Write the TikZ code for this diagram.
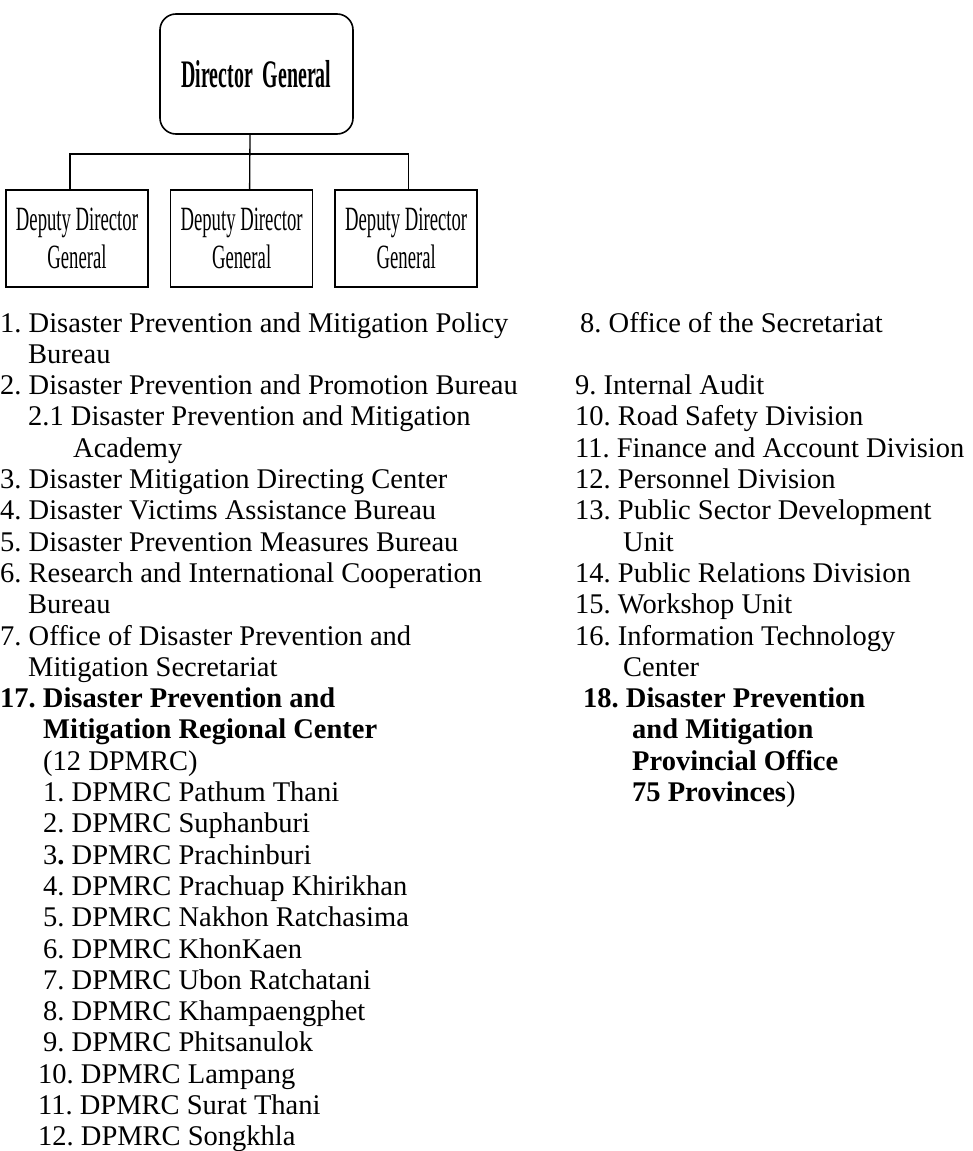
\documentclass[tikz,border=0pt]{standalone}
\usepackage{fontspec}
\setmainfont{Liberation Serif}
\newfontfamily\boxfont[FakeStretch=0.55]{Liberation Serif}
\newfontfamily\topfont[FakeStretch=0.51]{Liberation Serif}
\usetikzlibrary{positioning}
\frenchspacing

\begin{document}
\begin{tikzpicture}[x=1pt,y=-1pt,
    topbox/.style={draw, line width=1.6pt, rounded corners=16pt,
        minimum width=193pt, minimum height=120pt,
        font=\topfont\bfseries\fontsize{39}{40}\selectfont},
    depbox/.style={draw, line width=1.6pt, align=center,
        minimum width=142pt, minimum height=97pt,
        font=\boxfont\fontsize{34}{38}\selectfont},
    item/.style={anchor=base west, inner sep=0pt,
        font=\fontsize{28.5}{31}\selectfont},
    link/.style={line width=1.3pt}]
\useasboundingbox (0,0) rectangle (973,1151);

% boxes
\node[topbox] (dg) at (256.5,74) {Director\ \ General};
\node[depbox] (dep1) at (77,238.5) {Deputy Director\\General};
\node[depbox, right=21pt of dep1] (dep2) {Deputy Director\\General};
\node[depbox, right=21pt of dep2] (dep3) {Deputy Director\\General};

% lines
\coordinate (bus) at (250,154);
\draw[link] ([xshift=-6.5pt]dg.south) -- ([xshift=8pt]dep2.north);
\draw[link] ([xshift=-7pt]dep1.north) |- (bus) -| ([xshift=2pt]dep3.north);

% left list
\foreach \k/\x/\t in {
    0/0/{1. Disaster Prevention and Mitigation Policy},
    1/28/{Bureau},
    2/0/{2. Disaster Prevention and Promotion Bureau},
    3/28/{2.1 Disaster Prevention and Mitigation},
    4/73/{Academy},
    5/0/{3. Disaster Mitigation Directing Center},
    6/0/{4. Disaster Victims Assistance Bureau},
    7/0/{5. Disaster Prevention Measures Bureau},
    8/0/{6. Research and International Cooperation},
    9/28/{Bureau},
    10/0/{7. Office of Disaster Prevention and},
    11/28/{Mitigation Secretariat},
    12/0/{\textbf{17. Disaster Prevention and}},
    13/43/{\textbf{Mitigation Regional Center}},
    14/43/{(12 DPMRC)},
    15/43/{1. DPMRC Pathum Thani},
    16/43/{2. DPMRC Suphanburi},
    17/43/{3\textbf{.} DPMRC Prachinburi},
    18/43/{4. DPMRC Prachuap Khirikhan},
    19/43/{5. DPMRC Nakhon Ratchasima},
    20/43/{6. DPMRC KhonKaen},
    21/43/{7. DPMRC Ubon Ratchatani},
    22/43/{8. DPMRC Khampaengphet},
    23/43/{9. DPMRC Phitsanulok},
    24/38/{10. DPMRC Lampang},
    25/38/{11. DPMRC Surat Thani},
    26/38/{12. DPMRC Songkhla}}
    \node[item] (left\k) at (\x,332+31.3*\k) {\t};

% right list
\foreach \k/\x/\t in {
    0/580/{8. Office of the Secretariat},
    2/575/{9. Internal Audit},
    3/575/{10. Road Safety Division},
    4/575/{11. Finance and Account Division},
    5/575/{12. Personnel Division},
    6/575/{13. Public Sector Development},
    7/623/{Unit},
    8/575/{14. Public Relations Division},
    9/575/{15. Workshop Unit},
    10/575/{16. Information Technology},
    11/623/{Center},
    12/583/{\textbf{18. Disaster Prevention}},
    13/632/{\textbf{and Mitigation}},
    14/632/{\textbf{Provincial Office}},
    15/632/{\textbf{75 Provinces})}}
    \node[item] (right\k) at (\x,332+31.3*\k) {\t};
\end{tikzpicture}
\end{document}
